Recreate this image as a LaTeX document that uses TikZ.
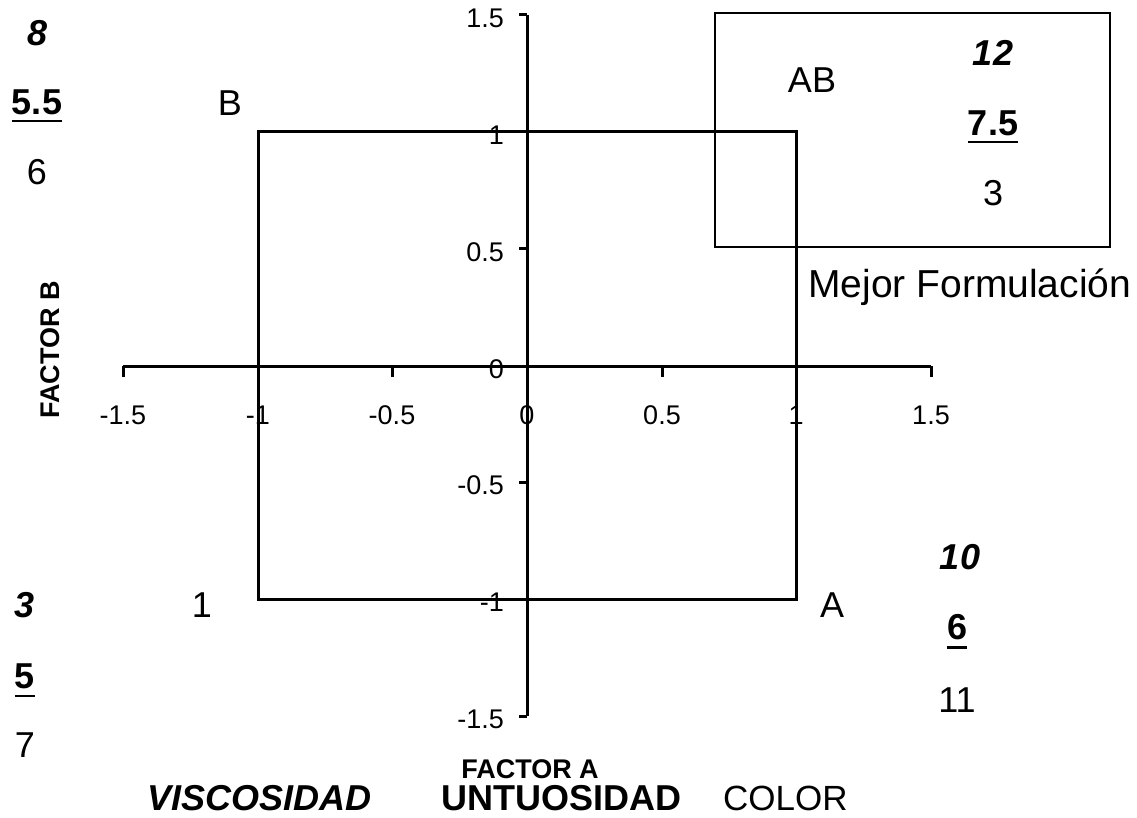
\documentclass[tikz,border=0pt]{standalone}
\usepackage{fontspec}
\setmainfont{Liberation Sans}
\begin{document}
\begin{tikzpicture}[x=1pt,y=-1pt,
  ax/.style={line width=3pt},
  tk/.style={inner sep=0pt, font=\fontsize{27}{30}\selectfont},
  lab/.style={inner sep=0pt, font=\fontsize{36}{40}\selectfont},
  labbi/.style={inner sep=0pt, font=\fontsize{36}{40}\selectfont\bfseries\itshape},
  labb/.style={inner sep=0pt, font=\fontsize{36}{40}\selectfont\bfseries},
  ul/.style={line width=2.5pt},
  ttl/.style={inner sep=0pt, font=\fontsize{27}{30}\selectfont\bfseries}]
\useasboundingbox (0,0) rectangle (1137,818);
% axes
\coordinate (xl) at (123,366); \coordinate (xr) at (931,366);
\coordinate (yt) at (527,15);  \coordinate (yb) at (527,716);
\draw[ax] (xl) -- (xr);
\draw[ax] (yt) -- (yb);
\foreach \x/\n in {123/a,392/b,662/c,931/d}{
  \coordinate (xt\n) at (\x,366);
  \draw[ax] (xt\n) -- ++(0,11);}
\foreach \y/\n in {15/a,249/b,482/c,716/d}{
  \coordinate (yt\n) at (527,\y);
  \draw[ax] (yt\n) -- ++(-8,0);}
% tick labels
\foreach \x/\t in {123/-1.5,258/-1,392/-0.5,527/0,662/0.5,796/1,931/1.5}
  \node[tk] (lx\x) at (\x,415) {\t};
\foreach \y/\t in {15/1.5,132/1,249/0.5,366/0,482/-0.5,599/-1,716/-1.5}
  \node[tk,anchor=east] (ly\y) at (504,\y+3) {\t};
% central square
\coordinate (r1) at (258,132); \coordinate (r2) at (796,599);
\draw[line width=3pt] (r1) rectangle (r2);
% best formulation box
\coordinate (b1) at (715,13); \coordinate (b2) at (1110,247);
\draw[line width=1.8pt] (b1) rectangle (b2);
\node[lab] (ab) at (812,80) {AB};
\node[labbi] (v12) at (993,53) {12};
\node[labb] (v75) at (993,123) {7.5};
\draw[ul] ([yshift=-7pt]v75.base west) -- ([yshift=-7pt]v75.base east);
\node[lab] (v3) at (993,193) {3};
\node[lab,font=\fontsize{39}{44}\selectfont,anchor=base west] (mf) at (808,297) {Mejor Formulación};
% B corner
\node[lab] (lb) at (230,103) {B};
\node[labbi] (v8) at (38,33) {8};
\node[labb] (v55) at (37,102) {5.5};
\draw[ul] ([yshift=-7pt]v55.base west) -- ([yshift=-7pt]v55.base east);
\node[lab] (v6) at (37,172) {6};
% 1 corner
\node[lab] (l1) at (202,605) {1};
\node[labbi] (w3) at (25,605) {3};
\node[labb] (w5) at (25,676) {5};
\draw[ul] ([yshift=-8pt]w5.base west) -- ([yshift=-8pt]w5.base east);
\node[lab] (w7) at (25,745) {7};
% A corner
\node[lab] (la) at (832,605) {A};
\node[labbi] (u10) at (960,557) {10};
\node[labb] (u6) at (957,627) {6};
\draw[ul] ([yshift=-8pt]u6.base west) -- ([yshift=-8pt]u6.base east);
\node[lab] (u11) at (957,700) {11};
% axis titles
\node[ttl,rotate=90] (fb) at (50,350) {FACTOR B};
\node[ttl,anchor=base] (fa) at (530,778) {FACTOR A};
\node[labbi,anchor=base west] (visc) at (147,810) {VISCOSIDAD};
\node[labb,anchor=base east] (untu) at (682,810) {UNTUOSIDAD};
\node[lab,font=\fontsize{35}{40}\selectfont,anchor=base west] (col) at (723,810) {COLOR};
\end{tikzpicture}
\end{document}
